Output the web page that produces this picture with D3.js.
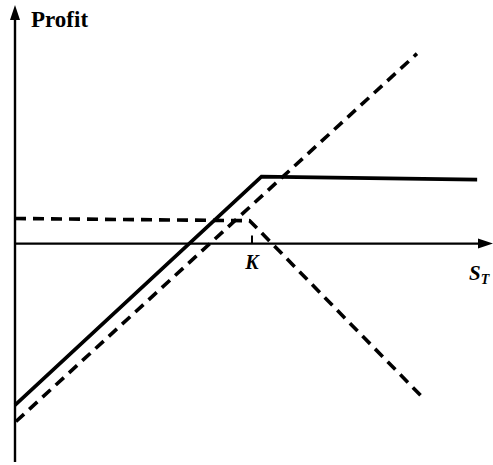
<!DOCTYPE html>
<html>
<head>
<meta charset="utf-8">
<script src="https://cdn.jsdelivr.net/npm/d3@7"></script>
<style>
  html, body { margin: 0; padding: 0; background: #fff; }
  svg { display: block; }
</style>
</head>
<body>
<div id="chart"></div>
<script>
// Covered call payoff: points (S_T, profit)
const strikeK = 100;
const coveredCall = [[0, -74], [104, 30.7], [195, 29.3]];   // solid
const longStock   = [[0.4, -81.5], [169.6, 87]];             // dashed
const shortCall   = [[0, 11.5], [99, 10.5], [172, -70.5]];   // dashed

(function () {
  const W = 493, H = 465;
  const svg = d3.select("#chart").append("svg")
    .attr("width", W).attr("height", H).attr("viewBox", `0 0 ${W} ${H}`);

  const x = d3.scaleLinear().domain([0, 200]).range([15, 489]);
  const y = d3.scaleLinear().domain([-95, 107]).range([451, 10]);

  const ink = "#000";

  // axes
  svg.append("line").attr("x1", x(0)).attr("x2", x(0)).attr("y1", 462).attr("y2", 14)
    .attr("stroke", ink).attr("stroke-width", 2.4);
  svg.append("path")
    .attr("d", `M${x(0)},5 L${x(0) - 5},20 L${x(0) + 5},20 Z`).attr("fill", ink);

  svg.append("line").attr("x1", x(0)).attr("x2", 484).attr("y1", y(0)).attr("y2", y(0))
    .attr("stroke", ink).attr("stroke-width", 2.2);
  svg.append("path")
    .attr("d", `M493,${y(0)} L478,${y(0) - 5} L478,${y(0) + 5} Z`).attr("fill", ink);

  // strike tick
  svg.append("line").attr("x1", x(strikeK)).attr("x2", x(strikeK))
    .attr("y1", y(0) - 8).attr("y2", y(0))
    .attr("stroke", ink).attr("stroke-width", 2);

  const line = d3.line().x(d => x(d[0])).y(d => y(d[1]));

  svg.append("path").datum(longStock).attr("d", line)
    .attr("fill", "none").attr("stroke", ink).attr("stroke-width", 3.6)
    .attr("stroke-dasharray", "11,7");
  svg.append("path").datum(shortCall).attr("d", line)
    .attr("fill", "none").attr("stroke", ink).attr("stroke-width", 3.6)
    .attr("stroke-dasharray", "11,7");
  svg.append("path").datum(coveredCall).attr("d", line)
    .attr("fill", "none").attr("stroke", ink).attr("stroke-width", 3.6)
    .attr("stroke-linejoin", "miter");

  // labels
  svg.append("text").attr("x", 31).attr("y", 27)
    .attr("font-family", "Liberation Serif, serif").attr("font-weight", "bold")
    .attr("font-size", "23px").attr("fill", ink).text("Profit");

  svg.append("text").attr("x", x(strikeK)).attr("y", y(0) + 25)
    .attr("text-anchor", "middle")
    .attr("font-family", "Liberation Serif, serif").attr("font-weight", "bold")
    .attr("font-style", "italic").attr("font-size", "20px").attr("fill", ink).text("K");

  const st = svg.append("text").attr("x", 469).attr("y", 280)
    .attr("font-family", "Liberation Serif, serif").attr("font-weight", "bold")
    .attr("font-style", "italic").attr("font-size", "21px").attr("fill", ink);
  st.append("tspan").text("S");
  st.append("tspan").attr("dy", 4).attr("font-size", "14px").text("T");
})();
</script>
</body>
</html>
